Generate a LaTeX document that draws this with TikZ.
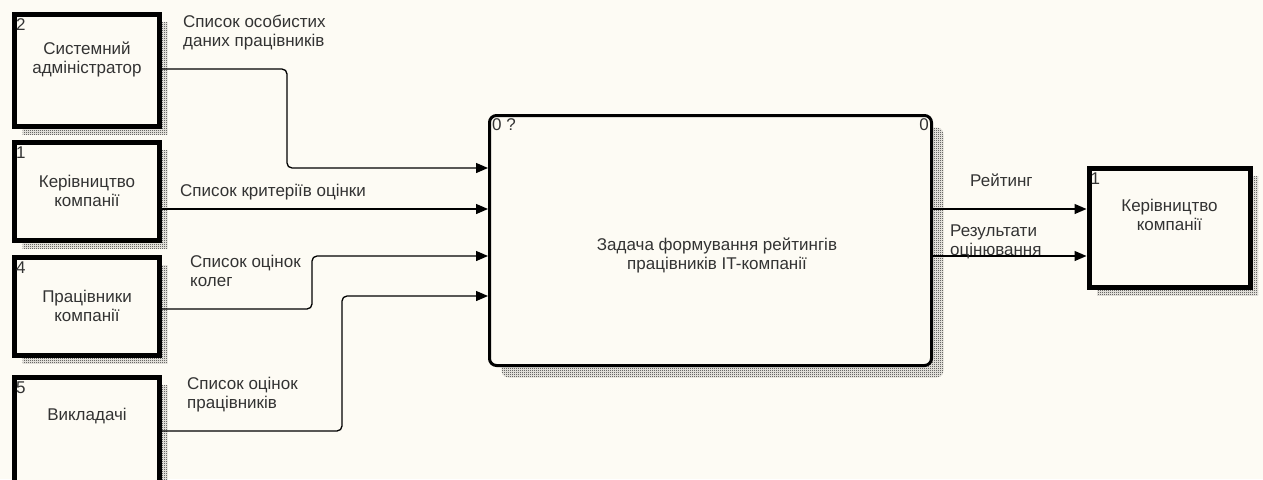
\documentclass[tikz,border=0pt]{standalone}
\usepackage{fontspec}
\setmainfont{Liberation Sans}
\usetikzlibrary{arrows.meta,patterns,shadows}
\definecolor{paper}{HTML}{FDFBF4}
\pgfdeclarepatternformonly{checker}{\pgfpointorigin}{\pgfpoint{2pt}{2pt}}{\pgfpoint{2pt}{2pt}}{
  \pgfpathrectangle{\pgfpointorigin}{\pgfpoint{1pt}{1pt}}
  \pgfpathrectangle{\pgfpoint{1pt}{1pt}}{\pgfpoint{1pt}{1pt}}
  \pgfusepath{fill}}

\begin{document}
\begin{tikzpicture}[x=1pt, y=-1pt,
  every node/.style={font=\fontsize{17}{19}\selectfont, text=black!80},
  entity/.style={rectangle, draw, line width=5pt, fill=paper, minimum width=145pt, align=center,
    general shadow={shadow xshift=8pt, shadow yshift=-8pt, pattern=checker, pattern color=black!90}},
  task/.style={rectangle, rounded corners=7pt, draw, line width=3pt, fill=paper, minimum width=442pt, minimum height=250pt,
    general shadow={shadow xshift=12pt, shadow yshift=-12pt, pattern=checker, pattern color=black!90}},
  num/.style={anchor=north west, inner sep=1pt},
  lbl/.style={anchor=north west, align=left, inner sep=0pt},
  flow/.style={line width=1.3pt, rounded corners=5pt, -{Triangle[length=12pt, width=10pt]}}]
  \useasboundingbox (0,0) rectangle (1263,479);
  \fill[paper] (0,0) rectangle (1263,479);

  % external entities
  \node (ent2) [entity, minimum height=112pt] at (87,70) {Системний\\адміністратор\\[6pt]};
  \node (ent1) [entity, minimum height=98pt] at (87,191) {Керівництво\\компанії};
  \node (ent4) [entity, minimum height=98pt] at (87,306) {Працівники\\компанії};
  \node (ent5) [entity, minimum height=106pt] at (87,430) {Викладачі\\[12pt]};
  \node (out1) [entity, minimum width=161pt, minimum height=119pt] at (1169.5,227.5) {Керівництво\\компанії\\[6pt]};
  \node [num] at ([shift={(3,6)}]ent2.north west) {2};
  \node [num] at ([shift={(3,6)}]ent1.north west) {1};
  \node [num] at ([shift={(3,6)}]ent4.north west) {4};
  \node [num] at ([shift={(3,6)}]ent5.north west) {5};
  \node [num] at ([shift={(3,6)}]out1.north west) {1};

  % process
  \node (proc) [task] at (710.5,240.5) {};
  \node (procname) [align=center] at (717,255) {Задача формування рейтингів\\працівників IT-компанії};
  \node [num] at ([shift={(3,3)}]proc.north west) {0 ?};
  \node [num, anchor=north east] at ([shift={(-3,3)}]proc.north east) {0};

  % flows
  \draw[flow] (ent2.east |- 0,69) -- (287,69) -- (287,168) -- (proc.west |- 0,168);
  \draw[flow] (ent1.east |- 0,209) -- (proc.west |- 0,209);
  \draw[flow] (ent4.east |- 0,309) -- (312,309) -- (312,256) -- (proc.west |- 0,256);
  \draw[flow] (ent5.east |- 0,431) -- (342,431) -- (342,296) -- (proc.west |- 0,296);
  \draw[flow] (proc.east |- 0,209) -- (out1.west |- 0,209);
  \draw[flow] (proc.east |- 0,256) -- (out1.west |- 0,256);

  % labels
  \node (l1) [lbl] at (183,15) {Список особистих\\даних працівників};
  \node (l2) [lbl] at (180,184) {Список критеріїв оцінки};
  \node (l3) [lbl] at (190,255) {Список оцінок\\колег};
  \node (l4) [lbl] at (187,377) {Список оцінок\\працівників};
  \node (l5) [lbl] at (970,174) {Рейтинг};
  \node (l6) [lbl] at (950,225) {Результати\\оцінювання};
\end{tikzpicture}
\end{document}
